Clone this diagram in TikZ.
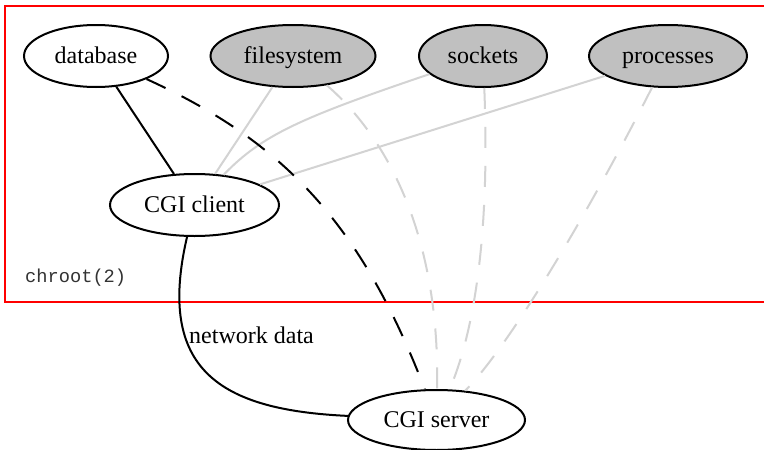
\documentclass[tikz,border=0pt]{standalone}
\usepackage{fontspec}
\setmainfont{Liberation Serif}
\setmonofont{Liberation Mono}
\usetikzlibrary{shapes.geometric}
\definecolor{nodegray}{HTML}{C0C0C0}
\definecolor{edgegray}{HTML}{D3D3D3}
\tikzset{
  ell/.style={ellipse, draw=black, line width=2pt, inner sep=0pt,
    minimum height=62pt, text height=17pt, text depth=3pt,
    font=\fontsize{24}{28}\selectfont},
  filled/.style={ell, fill=nodegray},
  blackedge/.style={draw=black, line width=2pt},
  grayedge/.style={draw=edgegray, line width=2pt},
  dashedge/.style={dash pattern=on 21pt off 18pt},
  lbl/.style={inner sep=0pt, anchor=west}
}
\begin{document}
\begin{tikzpicture}[x=1pt,y=-1pt]
\clip (0,0) rectangle (764,450);
\fill[white] (0,0) rectangle (764,450);
% chroot box
\draw[red, line width=2.2pt] (5,6) rectangle (800,302);
\node[lbl, font=\ttfamily\fontsize{18.7}{22}\selectfont, text=black!80] (chroot) at (25,278) {chroot(2)};
% nodes
\node[ell, minimum width=144pt] (db) at (96,56) {database};
\node[filled, minimum width=165pt] (fs) at (293,56) {filesystem};
\node[filled, minimum width=128pt] (sock) at (483,56) {sockets};
\node[filled, minimum width=158pt] (proc) at (668,56) {processes};
\node[ell, minimum width=169pt] (client) at (194.5,205) {CGI client};
\node[ell, minimum width=177pt, minimum height=60pt] (server) at (436.5,420) {CGI server};
% gray edges
\draw[grayedge] (fs) -- (client);
\draw[grayedge] (sock) .. controls (300,118) and (262,135) .. (client);
\draw[grayedge] (proc) -- (client);
\draw[grayedge, dashedge] (fs) .. controls (390,140) and (440,240) .. (server);
\draw[grayedge, dashedge] (sock) .. controls (490,230) and (475,330) .. (server);
\draw[grayedge, dashedge] (proc) .. controls (590,210) and (510,345) .. (server);
% black edges
\draw[blackedge] (db) -- (client);
\draw[blackedge, dashedge] (db) .. controls (280,140) and (360,220) .. (server);
\draw[blackedge] (client) .. controls (156,370) and (220,410) .. (server);
\node[lbl, font=\fontsize{24}{28}\selectfont] (netlbl) at (189,335) {network data};
\end{tikzpicture}
\end{document}
